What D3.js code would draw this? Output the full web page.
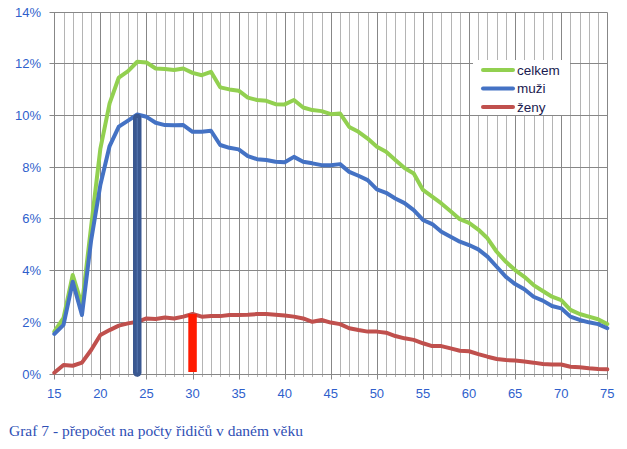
<!DOCTYPE html>
<html><head><meta charset="utf-8">
<script src="https://cdn.jsdelivr.net/npm/d3@7"></script>
<style>body{margin:0;background:#fff}svg{display:block}</style>
</head><body>
<svg id="c" width="627" height="449"></svg>
<script>
const ages = [15,16,17,18,19,20,21,22,23,24,25,26,27,28,29,30,31,32,33,34,35,36,37,38,39,40,41,42,43,44,45,46,47,48,49,50,51,52,53,54,55,56,57,58,59,60,61,62,63,64,65,66,67,68,69,70,71,72,73,74,75];
const celkem = [1.62,2.15,3.81,2.65,5.7,8.7,10.45,11.45,11.7,12.06,12.03,11.8,11.78,11.74,11.8,11.63,11.54,11.67,11.07,10.99,10.94,10.67,10.58,10.55,10.42,10.41,10.58,10.29,10.19,10.15,10.03,10.06,9.54,9.35,9.09,8.77,8.58,8.26,7.95,7.74,7.1,6.84,6.58,6.28,5.97,5.83,5.57,5.23,4.71,4.32,4.0,3.74,3.42,3.19,2.97,2.84,2.46,2.3,2.2,2.1,1.91];
const muzi = [1.53,1.88,3.55,2.26,5.16,7.3,8.8,9.55,9.78,10.02,9.93,9.7,9.61,9.6,9.61,9.35,9.35,9.39,8.84,8.73,8.67,8.41,8.29,8.26,8.19,8.17,8.38,8.19,8.13,8.06,8.06,8.1,7.8,7.65,7.48,7.12,6.99,6.77,6.59,6.32,5.94,5.78,5.48,5.29,5.1,4.97,4.8,4.52,4.13,3.74,3.46,3.26,2.97,2.82,2.61,2.52,2.2,2.07,1.98,1.91,1.75];
const zeny = [0.03,0.33,0.3,0.42,0.91,1.49,1.68,1.85,1.94,2.0,2.13,2.11,2.17,2.13,2.2,2.3,2.2,2.22,2.22,2.26,2.26,2.27,2.3,2.3,2.27,2.24,2.2,2.13,2.0,2.07,1.97,1.91,1.75,1.68,1.62,1.62,1.58,1.45,1.36,1.3,1.17,1.06,1.06,0.97,0.88,0.86,0.75,0.65,0.56,0.52,0.5,0.46,0.42,0.37,0.35,0.35,0.26,0.24,0.2,0.17,0.16];
const seriesNames = ["celkem","muži","ženy"];
const xTickLabels = [15,20,25,30,35,40,45,50,55,60,65,70,75];
const yTickLabels = [0,2,4,6,8,10,12,14];
const barAges = [24,30];
const barValues = [10.0,2.3];
const caption = "Graf 7 - přepočet na počty řidičů v daném věku";

const colors = ["#92D050","#4472C4","#C0504D"];
const svg = d3.select("#c");
const x = d3.scaleLinear().domain([15,75]).range([54.3,607.3]);
const y = d3.scaleLinear().domain([0,14]).range([373.5,11.6]);
const px = v => Math.round(x(v))+0.5;
const py = v => Math.round(y(v))+0.5;

// minor vertical grid
const g = svg.append("g");
ages.filter(a => a%5!==0).forEach(a=>{
  g.append("line").attr("x1",px(a)).attr("x2",px(a)).attr("y1",py(14)).attr("y2",py(0)+2.5)
   .attr("stroke","#b4b4b4").attr("stroke-width",1);
});
// major grid
xTickLabels.forEach(a=>{
  g.append("line").attr("x1",px(a)).attr("x2",px(a)).attr("y1",py(14)).attr("y2",py(0)+5)
   .attr("stroke","#878787").attr("stroke-width",1);
});
yTickLabels.forEach(v=>{
  g.append("line").attr("x1",px(15)-5).attr("x2",px(75)).attr("y1",py(v)).attr("y2",py(v))
   .attr("stroke","#878787").attr("stroke-width",1);
});

// axis labels
const axColor = "#2F5FCC";
svg.append("g").selectAll("text").data(yTickLabels).join("text")
  .attr("x",41).attr("y",d=>y(d)+5).attr("text-anchor","end")
  .attr("font-family","Liberation Sans, Arial, sans-serif").attr("font-size",13).attr("fill",axColor)
  .text(d=>d+"%");
svg.append("g").selectAll("text").data(xTickLabels).join("text")
  .attr("x",d=>x(d)).attr("y",398).attr("text-anchor","middle")
  .attr("font-family","Liberation Sans, Arial, sans-serif").attr("font-size",13).attr("fill",axColor)
  .text(d=>d);

// lines
const line = d3.line().x((d,i)=>x(ages[i])).y(d=>y(d)).curve(d3.curveLinear);
[celkem,muzi,zeny].forEach((s,i)=>{
  svg.append("path").attr("d",line(s)).attr("fill","none").attr("stroke",colors[i])
    .attr("stroke-width",4).attr("stroke-linejoin","round").attr("stroke-linecap","round");
});

// highlight bars
svg.append("line").attr("x1",x(barAges[0])).attr("x2",x(barAges[0]))
  .attr("y1",y(barValues[0])+3).attr("y2",y(0)-1)
  .attr("stroke","#3A5891").attr("stroke-width",8.5).attr("stroke-linecap","round");
svg.append("line").attr("x1",x(barAges[0])).attr("x2",x(barAges[0]))
  .attr("y1",y(barValues[0])+3).attr("y2",y(0)-1)
  .attr("stroke","#5676B0").attr("stroke-width",1);
svg.append("line").attr("x1",x(barAges[1])).attr("x2",x(barAges[1]))
  .attr("y1",y(barValues[1])).attr("y2",y(0)-1.5)
  .attr("stroke","#FF1A00").attr("stroke-width",8.5);

// legend
const lg = svg.append("g");
lg.append("rect").attr("x",473).attr("y",60).attr("width",97).attr("height",55).attr("fill","#fff");
seriesNames.forEach((n,i)=>{
  const yy = 70 + i*18.5;
  lg.append("line").attr("x1",483).attr("x2",513).attr("y1",yy).attr("y2",yy)
    .attr("stroke",colors[i]).attr("stroke-width",4).attr("stroke-linecap","round");
  lg.append("text").attr("x",517).attr("y",yy+4.5)
    .attr("font-family","Liberation Sans, Arial, sans-serif").attr("font-size",13.5).attr("fill","#1a1a50")
    .text(n);
});

// caption
svg.append("text").attr("x",9).attr("y",436)
  .attr("font-family","Liberation Serif, DejaVu Serif, serif").attr("font-size",15.5).attr("fill","#2F4FB5")
  .text(caption);
</script>
</body></html>
